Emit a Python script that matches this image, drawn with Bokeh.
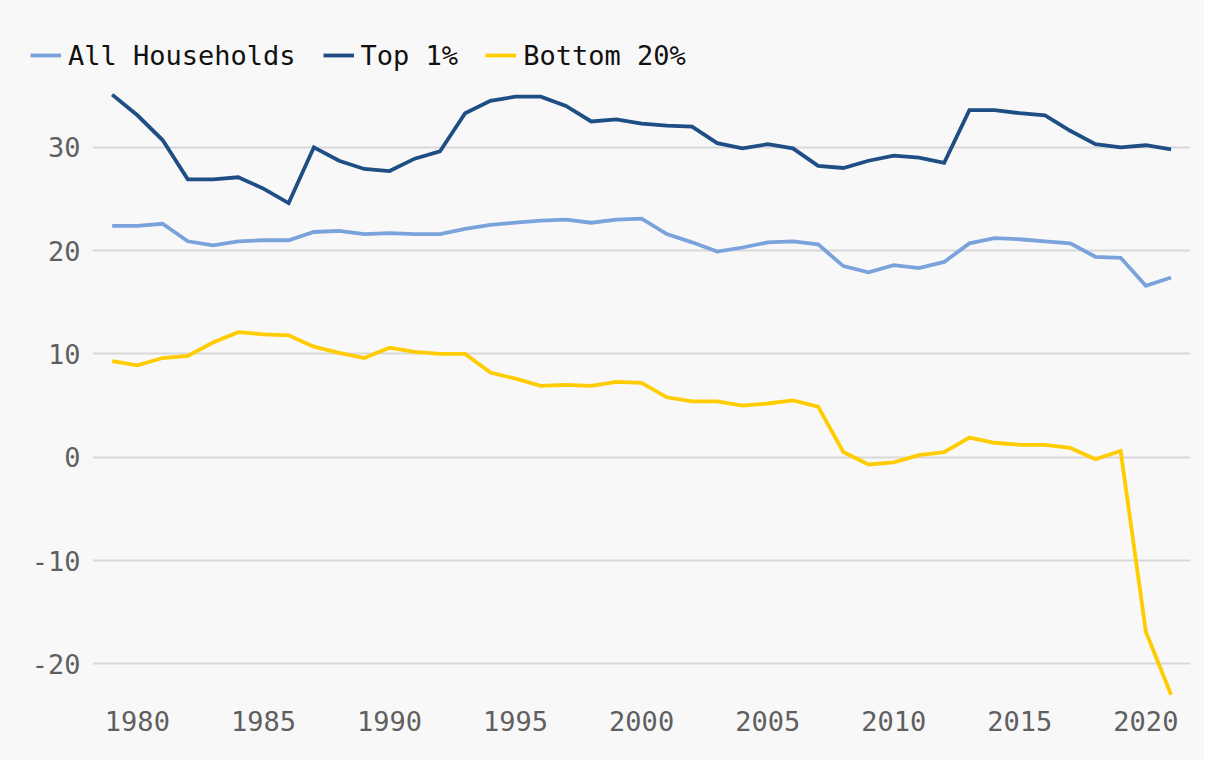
from bokeh.plotting import figure
from bokeh.layouts import column
from bokeh.models import Range1d, FixedTicker, Legend, LegendItem
from bokeh.embed import file_html
from bokeh.resources import INLINE

years = list(range(1979, 2022))

all_households = [22.4, 22.4, 22.6, 20.9, 20.5, 20.9, 21.0, 21.0, 21.8, 21.9,
                  21.6, 21.7, 21.6, 21.6, 22.1, 22.5, 22.7, 22.9, 23.0, 22.7,
                  23.0, 23.1, 21.6, 20.8, 19.9, 20.3, 20.8, 20.9, 20.6, 18.5,
                  17.9, 18.6, 18.3, 18.9, 20.7, 21.2, 21.1, 20.9, 20.7, 19.4,
                  19.3, 16.6, 17.4]

top_1 = [35.1, 33.1, 30.7, 26.9, 26.9, 27.1, 26.0, 24.6, 30.0, 28.7,
         27.9, 27.7, 28.9, 29.6, 33.3, 34.5, 34.9, 34.9, 34.0, 32.5,
         32.7, 32.3, 32.1, 32.0, 30.4, 29.9, 30.3, 29.9, 28.2, 28.0,
         28.7, 29.2, 29.0, 28.5, 33.6, 33.6, 33.3, 33.1, 31.6, 30.3,
         30.0, 30.2, 29.8]

bottom_20 = [9.3, 8.9, 9.6, 9.8, 11.1, 12.1, 11.9, 11.8, 10.7, 10.1,
             9.6, 10.6, 10.2, 10.0, 10.0, 8.2, 7.6, 6.9, 7.0, 6.9,
             7.3, 7.2, 5.8, 5.4, 5.4, 5.0, 5.2, 5.5, 4.9, 0.5,
             -0.7, -0.5, 0.2, 0.5, 1.9, 1.4, 1.2, 1.2, 0.9, -0.2,
             0.6, -16.9, -23.0]

series_names = ["All Households", "Top 1%", "Bottom 20%"]
series_colors = ["#7ba3db", "#1f4e85", "#ffcc00"]
x_ticks = [1980, 1985, 1990, 1995, 2000, 2005, 2010, 2015, 2020]
y_ticks = [-20, -10, 0, 10, 20, 30]
y_tick_labels = ["-20", "-10", "0", "10", "20", "30"]

FONT = "DejaVu Sans Mono"
BG = "#f8f8f8"
LW = 3.8
series = [all_households, top_1, bottom_20]

# ---- legend strip (top) ----
leg_fig = figure(width=1204, height=75, output_backend="svg", toolbar_location=None,
                 x_range=Range1d(1978.22, 2021.77), y_range=Range1d(1000, 1001),
                 x_axis_type=None, y_axis_type=None,
                 min_border_left=0, min_border_right=0, min_border_top=0,
                 min_border_bottom=0)
leg_fig.frame_align = False
leg_fig.background_fill_color = BG
leg_fig.border_fill_color = BG
leg_fig.outline_line_color = None
leg_fig.grid.visible = False
leg_renderers = []
for vals, col in zip(series, series_colors):
    leg_renderers.append(leg_fig.line(years, vals, line_color=col, line_width=LW))

legend = Legend(items=[LegendItem(label=n, renderers=[r]) for n, r in zip(series_names, leg_renderers)],
                orientation="horizontal", location=(30, 0),
                padding=0, margin=0, spacing=27, glyph_width=31, glyph_height=40,
                label_height=40, label_standoff=7,
                label_text_font=FONT, label_text_font_size="27px",
                label_text_color="#111111",
                background_fill_alpha=0, border_line_alpha=0)
leg_fig.add_layout(legend, "center")

# ---- main chart ----
p = figure(width=1204, height=685, output_backend="svg", toolbar_location=None,
           x_range=Range1d(1978.22, 2021.77), y_range=Range1d(-23.55, 36.95),
           min_border_left=92, min_border_right=14, min_border_top=0,
           min_border_bottom=60)
p.frame_align = False
p.background_fill_color = BG
p.border_fill_color = BG
p.outline_line_color = None

for vals, col in zip(series, series_colors):
    p.line(years, vals, line_color=col, line_width=LW, line_join="miter")

p.xaxis.ticker = FixedTicker(ticks=x_ticks)
p.yaxis.ticker = FixedTicker(ticks=y_ticks)
p.yaxis.major_label_overrides = {t: s for t, s in zip(y_ticks, y_tick_labels)}
for ax in (p.xaxis[0], p.yaxis[0]):
    ax.axis_line_color = None
    ax.major_tick_line_color = None
    ax.minor_tick_line_color = None
    ax.major_tick_out = 0
    ax.major_tick_in = 0
    ax.minor_tick_out = 0
    ax.major_label_text_font = FONT
    ax.major_label_text_font_size = "27px"
    ax.major_label_text_color = "#5f5f5f"
p.yaxis.major_label_standoff = 12
p.xaxis.major_label_standoff = 10

p.xgrid.grid_line_color = None
p.ygrid.grid_line_color = "#d8d8d8"
p.ygrid.grid_line_width = 2

layout = column(leg_fig, p, spacing=0)
layout.styles = {"background-color": BG}

open("out.html", "w").write(file_html(layout, INLINE))
